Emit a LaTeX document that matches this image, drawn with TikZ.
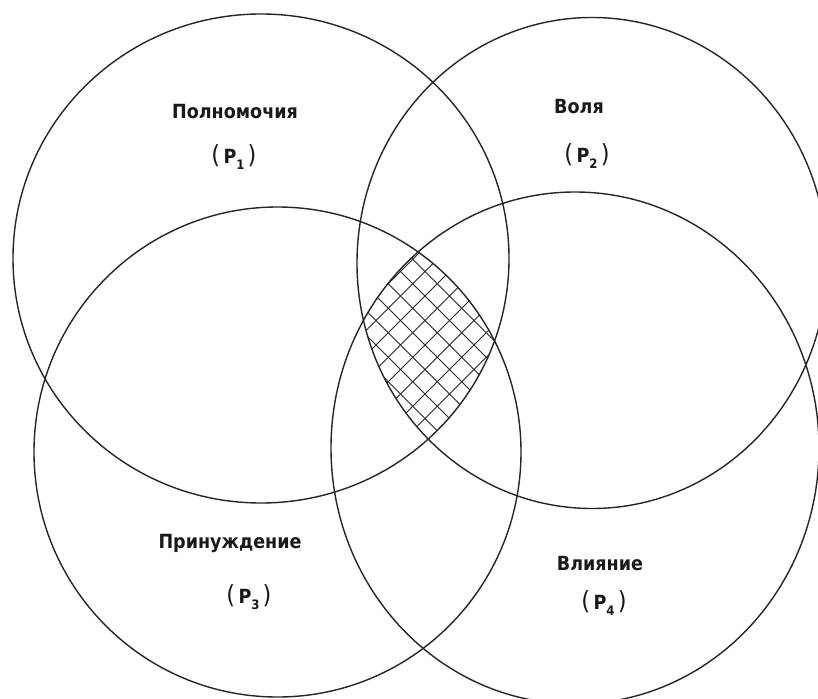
\documentclass[tikz,border=0pt]{standalone}
\usepackage{fontspec}
\newfontfamily\lblfont{DejaVu Sans Condensed}
\newcommand{\subdig}[1]{\raisebox{-0.6ex}{\fontsize{13}{13}\selectfont #1}}
\newcommand{\bigpar}[1]{{\fontsize{25}{25}\selectfont\mdseries #1}}
\begin{document}
\begin{tikzpicture}[x=1pt,y=-1pt,
  ring/.style={draw=black!85, line width=1.4pt},
  hatchline/.style={draw=black!85, line width=1pt},
  lbl/.style={font=\lblfont\bfseries\fontsize{19.5}{20}\selectfont, inner sep=0pt, anchor=center, text=black!90}]
\useasboundingbox (0,0) rectangle (818,698);
\fill[white] (0,0) rectangle (818,698);
% hatched intersection of all four circles
\begin{scope}
  \clip (261,258.5) ellipse [x radius=248pt, y radius=244.5pt];
  \clip (592,263) ellipse [x radius=235pt, y radius=245.5pt];
  \clip (277.5,452) ellipse [x radius=243.5pt, y radius=245pt];
  \clip (575,448) ellipse [x radius=244pt, y radius=256pt];
  \foreach \k in {-12,...,12} {
    \draw[hatchline] ({425+\k*24.5},345) ++(-160,-160) -- ++(320,320);
    \draw[hatchline] ({425+\k*24.5},345) ++(160,-160) -- ++(-320,320);
  }
\end{scope}
% circles
\begin{scope}
  \clip (0,0) rectangle (818,698);
  \draw[ring] (261,258.5) ellipse [x radius=248pt, y radius=244.5pt];
  \draw[ring] (592,263) ellipse [x radius=235pt, y radius=245.5pt];
  \draw[ring] (277.5,452) ellipse [x radius=243.5pt, y radius=245pt];
  \draw[ring] (575,448) ellipse [x radius=244pt, y radius=256pt];
\end{scope}
% labels
\node[lbl] (n1) at (235,112) {Полномочия};
\node[lbl] (p1) at (234,157) {\bigpar{(}\,P\subdig{1}\,\bigpar{)}};
\node[lbl] (n2) at (579,107) {Воля};
\node[lbl] (p2) at (587,156) {\bigpar{(}\,P\subdig{2}\,\bigpar{)}};
\node[lbl] (n3) at (230,543) {Принуждение};
\node[lbl] (p3) at (249,597) {\bigpar{(}\,P\subdig{3}\,\bigpar{)}};
\node[lbl] (n4) at (600,564) {Влияние};
\node[lbl] (p4) at (604,603) {\bigpar{(}\,P\subdig{4}\,\bigpar{)}};
\end{tikzpicture}
\end{document}
